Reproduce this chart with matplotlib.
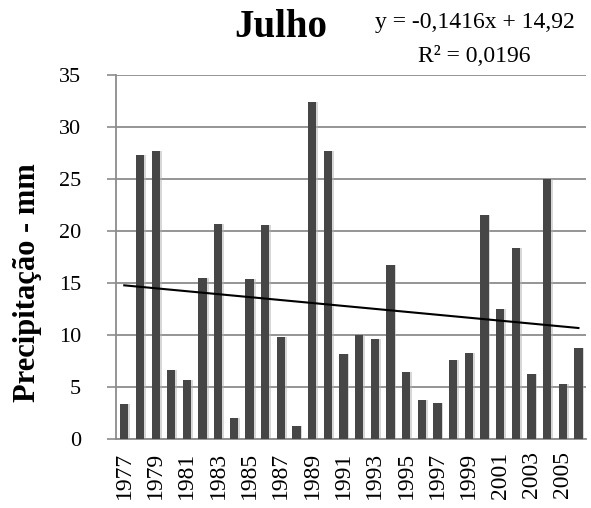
import numpy as np
import matplotlib.pyplot as plt

# Precipitação de julho, 1977-2006
anos = list(range(1977, 2007))
precipitacao = [3.4, 27.3, 27.7, 6.6, 5.7, 15.5, 20.7, 2.0, 15.4, 20.6,
                9.8, 1.2, 32.4, 27.7, 8.2, 10.0, 9.6, 16.7, 6.4, 3.7,
                3.5, 7.6, 8.3, 21.5, 12.5, 18.4, 6.2, 25.0, 5.3, 8.7]
rotulos_x = [str(a) if (a - 1977) % 2 == 0 else '' for a in anos]

# Tendência linear (x = 1..n)
inclinacao = -0.1416
intercepto = 14.92

plt.rcParams['font.family'] = ['Liberation Serif', 'DejaVu Serif']

fig = plt.figure(figsize=(5.91, 5.08), dpi=100)
ax = fig.add_axes([0.197, 0.136, 0.795, 0.716])

x = np.arange(len(anos))
ax.bar(x + 0.12, precipitacao, width=0.52, color='#b0b0b0', alpha=0.5, zorder=2)
ax.bar(x, precipitacao, width=0.52, color='#464646', zorder=3)

tendencia = inclinacao * (x + 1) + intercepto
ax.plot(x, tendencia, color='black', lw=1.5, zorder=4)

ax.set_xlim(-0.5, len(anos) - 0.5)
ax.set_ylim(0, 35)
ax.set_yticks(range(0, 36, 5))
ax.set_xticks(x)
ax.set_xticklabels(rotulos_x, rotation=90, fontsize=17)
ax.tick_params(axis='x', length=0, pad=9)
ax.tick_params(axis='y', length=6.5, width=1.2, color='#8c8c8c', labelsize=16, pad=19)
ax.grid(axis='y', color='#8c8c8c', lw=1.3, zorder=0)
for s in ['top', 'right']:
    ax.spines[s].set_visible(False)
for s in ['left', 'bottom']:
    ax.spines[s].set_color('#8c8c8c')
    ax.spines[s].set_linewidth(1.3)

fig.text(0.046, 0.443, 'Precipitação - mm', rotation=90, ha='center', va='center',
         fontsize=22, fontweight='bold')
fig.text(0.475, 0.927, 'Julho', ha='center', va='baseline', fontsize=28, fontweight='bold')
fig.text(0.803, 0.945, 'y = -0,1416x + 14,92', ha='center', va='baseline', fontsize=17)
fig.text(0.802, 0.878, 'R² = 0,0196', ha='center', va='baseline', fontsize=17)

fig.savefig('out.png', dpi=100)
